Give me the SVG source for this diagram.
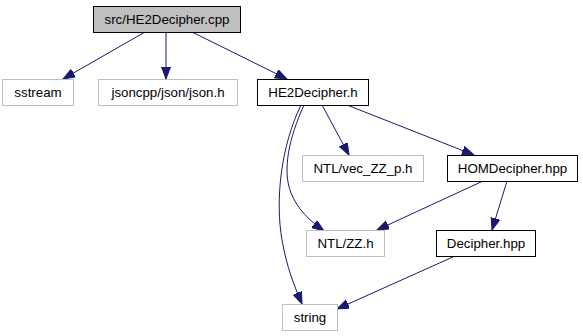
<svg xmlns="http://www.w3.org/2000/svg" width="583" height="336" viewBox="0 0 583 336">
  <style>
    .box { fill: #ffffff; stroke: #bfbfbf; stroke-width: 1; }
    .doc { fill: #ffffff; stroke: #000000; stroke-width: 1; }
    .root { fill: #bfbfbf; stroke: #000000; stroke-width: 1; }
    .lbl { font-family: "Liberation Sans", Arial, sans-serif; font-size: 13.3px; fill: #000000; text-anchor: middle; }
    .edge { fill: none; stroke: #191970; stroke-width: 1; marker-end: url(#arrow); }
  </style>
  <defs>
    <marker id="arrow" markerUnits="userSpaceOnUse" markerWidth="14" markerHeight="11" refX="12" refY="4.5" orient="auto">
      <path d="M0,0 L12,4.5 L0,9 Z" fill="#191970" stroke="#191970" stroke-width="1"/>
    </marker>
  </defs>

  <g id="connectors">
    <path class="edge" d="M145,32 L63,79"/>
    <path class="edge" d="M166,32 L166,79"/>
    <path class="edge" d="M192,32 L287,79"/>
    <path class="edge" d="M322,105 L349,155"/>
    <path class="edge" d="M347,105 L474,155"/>
    <path class="edge" d="M304,105 C289,138 282,170 291,193 C298,210 310,221 324,231"/>
    <path class="edge" d="M301,105 C281,146 275,200 282,240 C287,268 294,285 302,304"/>
    <path class="edge" d="M483,181 L377,230"/>
    <path class="edge" d="M507,181 L492,230"/>
    <path class="edge" d="M455,256 L337,309"/>
  </g>

  <g id="node-root">
    <rect class="root" x="93.5" y="6.5" width="147" height="26"/>
    <text class="lbl" x="167" y="24">src/HE2Decipher.cpp</text>
  </g>
  <g id="node-sstream">
    <rect class="box" x="2.5" y="79.5" width="71" height="26"/>
    <text class="lbl" x="38" y="97">sstream</text>
  </g>
  <g id="node-json">
    <rect class="box" x="98.5" y="79.5" width="139" height="26"/>
    <text class="lbl" x="168" y="97">jsoncpp/json/json.h</text>
  </g>
  <g id="node-he2decipher-h">
    <rect class="doc" x="257.5" y="79.5" width="111" height="26"/>
    <text class="lbl" x="313" y="97">HE2Decipher.h</text>
  </g>
  <g id="node-vec-zz-p">
    <rect class="box" x="302.5" y="155.5" width="121" height="26"/>
    <text class="lbl" x="363" y="173">NTL/vec_ZZ_p.h</text>
  </g>
  <g id="node-homdecipher">
    <rect class="doc" x="447.5" y="155.5" width="130" height="26"/>
    <text class="lbl" x="512.5" y="173">HOMDecipher.hpp</text>
  </g>
  <g id="node-zz">
    <rect class="box" x="306.5" y="230.5" width="78" height="26"/>
    <text class="lbl" x="345.5" y="248">NTL/ZZ.h</text>
  </g>
  <g id="node-decipher">
    <rect class="doc" x="436.5" y="230.5" width="99" height="26"/>
    <text class="lbl" x="486" y="248">Decipher.hpp</text>
  </g>
  <g id="node-string">
    <rect class="box" x="282.5" y="304.5" width="55" height="26"/>
    <text class="lbl" x="310" y="322">string</text>
  </g>
</svg>
